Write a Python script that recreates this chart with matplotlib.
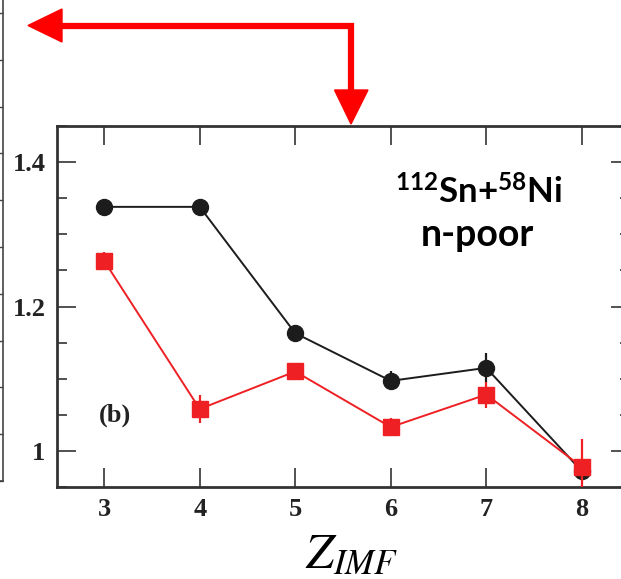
import matplotlib
matplotlib.use("Agg")
import matplotlib.pyplot as plt
from matplotlib.lines import Line2D
from matplotlib.patches import Polygon
from matplotlib.ticker import MultipleLocator

# ratio vs fragment charge, 112Sn+58Ni (n-poor)
z_imf = [3, 4, 5, 6, 7, 8]
ratio_black = [1.338, 1.338, 1.163, 1.097, 1.115, 0.972]
err_black = [0.005, 0.005, 0.006, 0.013, 0.020, 0.005]
ratio_red = [1.263, 1.058, 1.110, 1.033, 1.078, 0.978]
err_red = [0.013, 0.020, 0.012, 0.012, 0.018, 0.039]

W, H = 621, 579
plt.rcParams['mathtext.fontset'] = 'custom'
plt.rcParams['mathtext.rm'] = 'Lato:bold'
plt.rcParams['mathtext.it'] = 'Lato:bold'
plt.rcParams['mathtext.bf'] = 'Lato:bold'


def fx(px):
    return px / W


def fy(py):
    return 1 - py / H


fig = plt.figure(figsize=(W / 100, H / 100), dpi=100)

# neighbouring panel, only its right edge shows
axl = fig.add_axes([fx(-300), fy(481), fx(303), fy(-200) - fy(481)])
axl.set_xlim(0, 1)
axl.set_ylim(0, 481 + 200)
axl.yaxis.set_major_locator(MultipleLocator(46.8))
axl.yaxis.tick_right()
axl.tick_params(axis='y', direction='in', length=5, width=1, color='#444',
                labelright=False)
axl.set_xticks([])
for s in axl.spines.values():
    s.set_color('#444')
    s.set_linewidth(1.2)

ax = fig.add_axes([fx(56.5), fy(487), fx(629.5) - fx(56.5), fy(126) - fy(487)])

ax.errorbar(z_imf, ratio_black, yerr=err_black, color='#1c1c1c', lw=1.4,
            marker='o', ms=11.5, elinewidth=1.6, capsize=0, zorder=3)
ax.errorbar(z_imf, ratio_red, yerr=err_red, color='#ee2024', lw=1.4,
            marker='s', ms=11, elinewidth=1.6, capsize=0, zorder=4)

ax.set_xlim(2.5, 8.5)
ax.set_ylim(0.95, 1.45)
ax.set_xticks(z_imf)
ax.yaxis.set_minor_locator(MultipleLocator(0.05))
ax.tick_params(which='both', direction='in', top=True, right=True,
               color='#333', width=1.2)
ax.tick_params(which='major', length=14, pad=8)
ax.tick_params(which='minor', length=7)
ax.set_yticks([1.0, 1.2, 1.4])
ax.set_yticklabels(['1', '1.2', '1.4'])
for lab in ax.get_xticklabels() + ax.get_yticklabels():
    lab.set_fontfamily('Liberation Serif')
    lab.set_fontweight('bold')
    lab.set_fontsize(19)
    lab.set_color('#222')
for s in ax.spines.values():
    s.set_color('#333')
    s.set_linewidth(2)

ax.text(0.102, 0.2, '(b)', transform=ax.transAxes, ha='center', va='center',
        fontfamily='Liberation Serif', fontweight='bold', fontsize=19,
        color='#222')

fig.text(fx(479), fy(203), r'$^{112}$Sn+$^{58}$Ni', ha='center',
         va='baseline', fontfamily='Lato', fontweight='bold', fontsize=25,
         math_fontfamily='custom')
fig.text(fx(477), fy(246), 'n-poor', ha='center', va='baseline',
         fontfamily='Lato', fontweight='bold', fontsize=27)

fig.text(fx(352), fy(568), r'$Z_{IMF}$', ha='center', va='baseline',
         fontsize=36, math_fontfamily='stix')

# red arrow from panel (b) back to the left panel
red = '#ff0000'
fig.add_artist(Line2D([fx(60), fx(351), fx(351)], [fy(25.5), fy(25.5), fy(92)],
                      transform=fig.transFigure, color=red, lw=4.5,
                      solid_joinstyle='miter'))
fig.add_artist(Polygon([[fx(28), fy(25.5)], [fx(62), fy(9)], [fx(62), fy(42)]],
                       closed=True, transform=fig.transFigure, color=red))
fig.add_artist(Polygon([[fx(351), fy(124)], [fx(334.5), fy(90)], [fx(368), fy(90)]],
                       closed=True, transform=fig.transFigure, color=red))

fig.savefig('out.png', dpi=100)
